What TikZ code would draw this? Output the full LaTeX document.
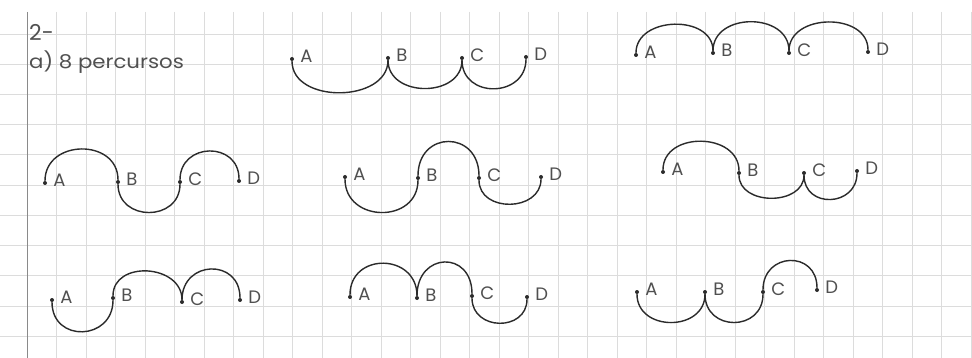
\documentclass[tikz,border=0pt]{standalone}
\usepackage{fontspec}
\setmainfont{Poppins}
\usetikzlibrary{positioning}
\definecolor{ink}{HTML}{2B2B2B}
\definecolor{pencil}{HTML}{505050}
\definecolor{gridline}{HTML}{DCDCDC}
\definecolor{margin}{HTML}{8A8A8A}

\begin{document}
\begin{tikzpicture}[
  x=1pt,y=-1pt,
  dot/.style={circle,fill=ink,inner sep=0pt,minimum size=4pt},
  letter/.style={inner sep=0pt,yshift=2.5pt,text=pencil,font=\fontsize{18}{18}\selectfont},
  note/.style={anchor=west,inner sep=0pt,text=pencil,font=\fontsize{19}{19}\selectfont},
  link/.style={draw=ink,line width=1.4pt}
]
% paper
\fill[white] (0,0) rectangle (972,358);
\useasboundingbox (0,0) rectangle (972,358);
\foreach \gx in {56.5,86,...,972} \draw[gridline,line width=0.6pt] (\gx,12) -- (\gx,358);
\foreach \gy in {34,64.2,...,358} \draw[gridline,line width=0.6pt] (0,\gy) -- (972,\gy);
\draw[margin,line width=1pt] (27,12) -- (27,358);

\node[note,scale=1.15,anchor=west] (title) at (29,32) {2-};
\node[note,xscale=1.12] (item) at (29,62) {a) 8 percursos};

% path 1
\node[dot] (a1) at (292,59) {};
\node[dot] (b1) at (388,58) {};
\node[dot] (c1) at (462,58) {};
\node[dot] (d1) at (526,57) {};
\node[letter,right=6pt of a1] (la1) {A};
\node[letter,right=6pt of b1] (lb1) {B};
\node[letter,right=6pt of c1] (lc1) {C};
\node[letter,right=6pt of d1] (ld1) {D};
\draw[link] (a1) .. controls +(0,45) and +(0,45) .. (b1);
\draw[link] (b1) .. controls +(0,40) and +(0,40) .. (c1);
\draw[link] (c1) .. controls +(0,41) and +(0,41) .. (d1);

% path 2
\node[dot] (a2) at (636,55) {};
\node[dot] (b2) at (713,53) {};
\node[dot] (c2) at (789,53) {};
\node[dot] (d2) at (868,52) {};
\node[letter,right=6pt of a2] (la2) {A};
\node[letter,right=6pt of b2] (lb2) {B};
\node[letter,right=6pt of c2] (lc2) {C};
\node[letter,right=6pt of d2] (ld2) {D};
\draw[link] (a2) .. controls +(0,-39) and +(0,-39) .. (b2);
\draw[link] (b2) .. controls +(0,-41) and +(0,-41) .. (c2);
\draw[link] (c2) .. controls +(0,-40) and +(0,-40) .. (d2);

% path 3
\node[dot] (a3) at (45,183) {};
\node[dot] (b3) at (118,182) {};
\node[dot] (c3) at (180,182) {};
\node[dot] (d3) at (239,181) {};
\node[letter,right=6pt of a3] (la3) {A};
\node[letter,right=6pt of b3] (lb3) {B};
\node[letter,right=6pt of c3] (lc3) {C};
\node[letter,right=6pt of d3] (ld3) {D};
\draw[link] (a3) .. controls +(0,-44) and +(0,-44) .. (b3);
\draw[link] (b3) .. controls +(0,40) and +(0,40) .. (c3);
\draw[link] (c3) .. controls +(0,-40) and +(0,-40) .. (d3);

% path 4
\node[dot] (a4) at (345,177) {};
\node[dot] (b4) at (418,178) {};
\node[dot] (c4) at (479,178) {};
\node[dot] (d4) at (541,177) {};
\node[letter,right=6pt of a4] (la4) {A};
\node[letter,right=6pt of b4] (lb4) {B};
\node[letter,right=6pt of c4] (lc4) {C};
\node[letter,right=6pt of d4] (ld4) {D};
\draw[link] (a4) .. controls +(0,46) and +(0,46) .. (b4);
\draw[link] (b4) .. controls +(0,-48) and +(0,-48) .. (c4);
\draw[link] (c4) .. controls +(0,35) and +(0,35) .. (d4);

% path 5
\node[dot] (a5) at (663,172) {};
\node[dot] (b5) at (739,173) {};
\node[dot] (c5) at (804,173) {};
\node[dot] (d5) at (857,171) {};
\node[letter,right=6pt of a5] (la5) {A};
\node[letter,right=6pt of b5] (lb5) {B};
\node[letter,right=6pt of c5] (lc5) {C};
\node[letter,right=6pt of d5] (ld5) {D};
\draw[link] (a5) .. controls +(0,-41) and +(0,-41) .. (b5);
\draw[link] (b5) .. controls +(0,33) and +(0,33) .. (c5);
\draw[link] (c5) .. controls +(0,36) and +(0,36) .. (d5);

% path 6
\node[dot] (a6) at (52,300) {};
\node[dot] (b6) at (113,298) {};
\node[dot] (c6) at (182,302) {};
\node[dot] (d6) at (240,300) {};
\node[letter,right=6pt of a6] (la6) {A};
\node[letter,right=6pt of b6] (lb6) {B};
\node[letter,right=6pt of c6] (lc6) {C};
\node[letter,right=6pt of d6] (ld6) {D};
\draw[link] (a6) .. controls +(0,43) and +(0,43) .. (b6);
\draw[link] (b6) .. controls +(0,-38) and +(0,-38) .. (c6);
\draw[link] (c6) .. controls +(0,-42) and +(0,-42) .. (d6);

% path 7
\node[dot] (a7) at (350,297) {};
\node[dot] (b7) at (417,298) {};
\node[dot] (c7) at (472,296) {};
\node[dot] (d7) at (527,297) {};
\node[letter,right=6pt of a7] (la7) {A};
\node[letter,right=6pt of b7] (lb7) {B};
\node[letter,right=6pt of c7] (lc7) {C};
\node[letter,right=6pt of d7] (ld7) {D};
\draw[link] (a7) .. controls +(0,-45) and +(0,-45) .. (b7);
\draw[link] (b7) .. controls +(0,-46) and +(0,-46) .. (c7);
\draw[link] (c7) .. controls +(0,35) and +(0,35) .. (d7);

% path 8
\node[dot] (a8) at (637,292) {};
\node[dot] (b8) at (705,292) {};
\node[dot] (c8) at (763,292) {};
\node[dot] (d8) at (817,290) {};
\node[letter,right=6pt of a8] (la8) {A};
\node[letter,right=6pt of b8] (lb8) {B};
\node[letter,right=6pt of c8] (lc8) {C};
\node[letter,right=6pt of d8] (ld8) {D};
\draw[link] (a8) .. controls +(0,40) and +(0,40) .. (b8);
\draw[link] (b8) .. controls +(0,40) and +(0,40) .. (c8);
\draw[link] (c8) .. controls +(0,-40) and +(0,-40) .. (d8);
\end{tikzpicture}
\end{document}
